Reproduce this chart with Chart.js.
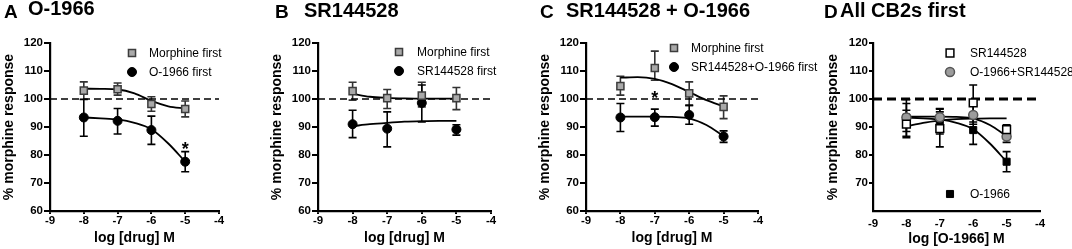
<!DOCTYPE html>
<html>
<head>
<meta charset="utf-8">
<script src="https://cdn.jsdelivr.net/npm/chart.js@4.4.1/dist/chart.umd.min.js"></script>
<style>
  body { margin: 0; background: #fff; }
  #wrap { position: relative; width: 1072px; height: 249px; overflow: hidden; }
  canvas { position: absolute; top: 0; }
</style>
</head>
<body>
<div id="wrap">
  <canvas id="panel-a" width="268" height="249" style="left:0px"></canvas>
  <canvas id="panel-b" width="268" height="249" style="left:268px"></canvas>
  <canvas id="panel-c" width="290" height="249" style="left:536px"></canvas>
  <canvas id="panel-d" width="248" height="249" style="left:824px"></canvas>
</div>
<script>
// doses (log M) for measured points and for the fitted curves
const doses = [-8, -7, -6, -5];
const fitDoses = [-8, -7.5, -7, -6.5, -6, -5.5, -5];

// A: O-1966
const aMorphMean = [103.0, 103.5, 98.2, 96.4];
const aMorphHi = [106.1, 105.7, 100.8, 99.3];
const aMorphLo = [99.9, 101.4, 95.6, 93.6];
const aO1966Mean = [93.4, 92.2, 88.9, 77.6];
const aO1966Hi = [99.8, 96.6, 93.9, 81.2];
const aO1966Lo = [86.7, 87.5, 83.8, 74.0];
const aFitMorph = [103.7, 103.6, 103.4, 102.0, 99.3, 97.4, 96.6];
const aFitO1966 = [93.4, 93.1, 92.7, 91.5, 89.2, 84.1, 77.6];

// B: SR144528
const bMorphMean = [102.8, 100.3, 101.2, 100.3];
const bMorphHi = [106.0, 103.4, 106.0, 104.1];
const bMorphLo = [99.6, 96.6, 97.2, 96.2];
const bSrMean = [91.0, 89.4, 98.6, 89.1];
const bSrHi = [96.0, 95.4, 105.0, 90.8];
const bSrLo = [86.2, 82.9, 91.8, 87.1];
const bFitMorph = [101.9, 100.8, 100.4, 100.2, 100.1, 100.1, 100.1];
const bFitSr = [90.3, 91.0, 91.5, 91.9, 92.1, 92.2, 92.2];

// C: SR144528 + O-1966
const cMorphMean = [104.6, 111.1, 102.0, 97.2];
const cMorphHi = [108.1, 117.1, 106.1, 101.1];
const cMorphLo = [101.4, 106.7, 97.6, 93.0];
const cSrOMean = [93.4, 93.5, 94.3, 86.6];
const cSrOHi = [98.4, 96.4, 97.8, 88.6];
const cSrOLo = [88.4, 90.3, 91.0, 84.5];
const cFitMorph = [107.6, 107.8, 107.2, 105.3, 102.5, 99.6, 97.4];
const cFitSrO = [93.7, 93.7, 93.7, 93.6, 93.1, 90.7, 86.7];

// D: all CB2s first (same groups as the "first" series above)
const dFitSr = [90.2, 91.5, 92.3, 92.8, 93.0, 93.1, 93.1];

const stars = { a: [{ x: -5, y: 83.2 }], c: [{ x: -7, y: 101.4 }] };

const FONT = "'Liberation Sans', Arial, sans-serif";

function zip(xs, ys) {
  return xs.map((x, i) => ({ x: x, y: ys[i] }));
}

const grayRect = { pointStyle: "rect", pointRadius: 5, pointBackgroundColor: "#a9a9a9", pointBorderColor: "#3c3c3c", pointBorderWidth: 1.5, errColor: "#333" };
const blackDot = { pointStyle: "circle", pointRadius: 4.5, pointBackgroundColor: "#000", pointBorderColor: "#000", pointBorderWidth: 1, errColor: "#000" };
const openRect = { pointStyle: "rect", pointRadius: 5.5, pointBackgroundColor: "#fff", pointBorderColor: "#000", pointBorderWidth: 1.5, errColor: "#000" };
const grayDot = { pointStyle: "circle", pointRadius: 4.5, pointBackgroundColor: "#9c9c9c", pointBorderColor: "#555", pointBorderWidth: 1.5, errColor: "#000" };
const blackRect = { pointStyle: "rect", pointRadius: 5, pointBackgroundColor: "#000", pointBorderColor: "#000", pointBorderWidth: 1, errColor: "#000" };

function pointSet(label, mean, hi, lo, style) {
  return Object.assign({
    label: label,
    data: zip(doses, mean),
    errHi: hi,
    errLo: lo,
    showLine: false,
    pointHoverRadius: 0
  }, style);
}

function fitLine(values) {
  return {
    data: zip(fitDoses, values),
    showLine: true,
    borderColor: "#000",
    borderWidth: 1.8,
    pointRadius: 0,
    cubicInterpolationMode: "monotone"
  };
}

function refLine(width, dash) {
  return {
    data: [{ x: -9, y: 100 }, { x: -4, y: 100 }],
    showLine: true,
    borderColor: "#000",
    borderWidth: width,
    borderDash: dash,
    pointRadius: 0
  };
}

function drawMarker(ctx, ds, cx, cy, r) {
  ctx.fillStyle = ds.pointBackgroundColor;
  ctx.strokeStyle = ds.pointBorderColor;
  ctx.lineWidth = ds.pointBorderWidth;
  ctx.beginPath();
  if (ds.pointStyle === "rect") {
    const h = r * Math.SQRT1_2;
    ctx.rect(cx - h, cy - h, 2 * h, 2 * h);
  } else {
    ctx.arc(cx, cy, r, 0, Math.PI * 2);
  }
  ctx.fill();
  ctx.stroke();
}

const panelDecor = {
  id: "panelDecor",
  beforeDatasetsDraw(chart) {
    const { ctx, scales: { x, y } } = chart;
    chart.data.datasets.forEach((ds) => {
      if (!ds.errHi) return;
      ctx.save();
      ctx.strokeStyle = ds.errColor;
      ctx.lineWidth = 1.6;
      ds.data.forEach((pt, j) => {
        const px = x.getPixelForValue(pt.x);
        const top = y.getPixelForValue(ds.errHi[j]);
        const bot = y.getPixelForValue(ds.errLo[j]);
        ctx.beginPath();
        ctx.moveTo(px, top); ctx.lineTo(px, bot);
        ctx.moveTo(px - 4, top); ctx.lineTo(px + 4, top);
        ctx.moveTo(px - 4, bot); ctx.lineTo(px + 4, bot);
        ctx.stroke();
      });
      ctx.restore();
    });
  },
  afterDraw(chart, args, opts) {
    const { ctx, scales: { x, y } } = chart;
    ctx.save();
    ctx.fillStyle = "#000";
    ctx.textBaseline = "alphabetic";
    ctx.font = "bold 19px " + FONT;
    ctx.fillText(opts.letter, opts.letterX, 18);
    ctx.font = "bold 20px " + FONT;
    ctx.fillText(opts.title, opts.titleX, opts.titleY);

    ctx.font = "12px " + FONT;
    ctx.textBaseline = "middle";
    (opts.legend || []).forEach((item) => {
      const ds = chart.data.datasets[item.index];
      drawMarker(ctx, ds, item.x, item.y, item.r);
      ctx.fillStyle = "#000";
      ctx.fillText(ds.label, item.textX, item.y + 1);
    });

    ctx.font = "bold 18px " + FONT;
    ctx.textAlign = "center";
    ctx.textBaseline = "alphabetic";
    (opts.stars || []).forEach((s) => {
      ctx.fillText("*", x.getPixelForValue(s.x), y.getPixelForValue(s.y) + 9);
    });
    ctx.restore();
  }
};

function makePanel(id, cfg) {
  const hideSixty = !!cfg.hideSixty;
  new Chart(document.getElementById(id), {
    type: "scatter",
    data: { datasets: cfg.datasets },
    options: {
      responsive: false,
      animation: false,
      events: [],
      layout: { padding: { top: 43, right: cfg.padRight, bottom: 0, left: 0 } },
      plugins: {
        legend: { display: false },
        tooltip: { enabled: false },
        panelDecor: cfg.decor
      },
      scales: {
        x: {
          type: "linear",
          min: -9,
          max: -4,
          afterFit: (s) => { s.height = 38; },
          ticks: { stepSize: 1, color: "#000", padding: cfg.xTickPad, maxRotation: 0, autoSkip: false, font: { family: FONT, size: 11.5, weight: "bold" } },
          grid: { drawOnChartArea: false, drawTicks: cfg.xTicks, tickLength: 3, color: "#000", lineWidth: 2 },
          border: { color: "#000", width: 2.2 },
          title: { display: true, text: cfg.xTitle, color: "#000", font: { family: FONT, size: 14, weight: "bold" }, padding: { top: 0, bottom: cfg.xTitlePad } }
        },
        y: {
          min: 60,
          max: 120,
          afterFit: (s) => { s.width = cfg.yWidth; },
          ticks: {
            stepSize: 10,
            color: "#000",
            padding: 1,
            font: { family: FONT, size: 11.5, weight: "bold" },
            callback: (v) => (hideSixty && v === 60 ? "" : v)
          },
          grid: {
            drawOnChartArea: false,
            tickLength: cfg.yTickLen,
            lineWidth: 2,
            color: (c) => (hideSixty && c.tick && c.tick.value === 60 ? "rgba(0,0,0,0)" : "#000")
          },
          border: { color: "#000", width: 2.2 },
          title: { display: true, text: "% morphine response", color: "#000", font: { family: FONT, size: 14, weight: "bold" }, padding: { top: 1, bottom: 0 } }
        }
      }
    },
    plugins: [panelDecor]
  });
}

makePanel("panel-a", {
  padRight: 49, yWidth: 50, yTickLen: 6, xTicks: true, xTickPad: 0, xTitlePad: 2,
  xTitle: "log [drug] M",
  datasets: [
    pointSet("Morphine first", aMorphMean, aMorphHi, aMorphLo, grayRect),
    pointSet("O-1966 first", aO1966Mean, aO1966Hi, aO1966Lo, blackDot),
    fitLine(aFitMorph),
    fitLine(aFitO1966),
    refLine(1.5, [7, 4])
  ],
  decor: {
    letter: "A", letterX: 4, title: "O-1966", titleX: 28, titleY: 15,
    legend: [
      { index: 0, x: 132, y: 53, r: 5, textX: 149 },
      { index: 1, x: 132, y: 72, r: 4.5, textX: 149 }
    ],
    stars: stars.a
  }
});

makePanel("panel-b", {
  padRight: 45, yWidth: 50, yTickLen: 6, xTicks: true, xTickPad: 0, xTitlePad: 2,
  xTitle: "log [drug] M",
  datasets: [
    pointSet("Morphine first", bMorphMean, bMorphHi, bMorphLo, grayRect),
    pointSet("SR144528 first", bSrMean, bSrHi, bSrLo, blackDot),
    fitLine(bFitMorph),
    fitLine(bFitSr),
    refLine(1.5, [7, 4])
  ],
  decor: {
    letter: "B", letterX: 7, title: "SR144528", titleX: 36, titleY: 17,
    legend: [
      { index: 0, x: 131, y: 52, r: 5, textX: 149 },
      { index: 1, x: 131, y: 71, r: 4.5, textX: 149 }
    ]
  }
});

makePanel("panel-c", {
  padRight: 68, yWidth: 50, yTickLen: 6, xTicks: true, xTickPad: 0, xTitlePad: 2,
  xTitle: "log [drug] M",
  datasets: [
    pointSet("Morphine first", cMorphMean, cMorphHi, cMorphLo, grayRect),
    pointSet("SR144528+O-1966 first", cSrOMean, cSrOHi, cSrOLo, blackDot),
    fitLine(cFitMorph),
    fitLine(cFitSrO),
    refLine(1.5, [7, 4])
  ],
  decor: {
    letter: "C", letterX: 4, title: "SR144528 + O-1966", titleX: 30, titleY: 17,
    legend: [
      { index: 0, x: 138, y: 48, r: 5, textX: 155 },
      { index: 1, x: 138, y: 67, r: 4.5, textX: 155 }
    ],
    stars: stars.c
  }
});

makePanel("panel-d", {
  padRight: 32, yWidth: 49, yTickLen: 4, xTicks: false, xTickPad: 6, xTitlePad: 1, hideSixty: true,
  xTitle: "log [O-1966] M",
  datasets: [
    pointSet("SR144528", bSrMean, bSrHi, bSrLo, openRect),
    pointSet("O-1966+SR144528", cSrOMean, cSrOHi, cSrOLo, grayDot),
    pointSet("O-1966", aO1966Mean, aO1966Hi, aO1966Lo, blackRect),
    fitLine(dFitSr),
    fitLine(cFitSrO),
    fitLine(aFitO1966),
    refLine(3, [9, 5])
  ],
  decor: {
    letter: "D", letterX: 0, title: "All CB2s first", titleX: 16, titleY: 17,
    legend: [
      { index: 0, x: 126, y: 53, r: 5.5, textX: 146 },
      { index: 1, x: 126, y: 72, r: 4.5, textX: 146 },
      { index: 2, x: 126, y: 194, r: 5, textX: 146 }
    ]
  }
});
</script>
</body>
</html>
